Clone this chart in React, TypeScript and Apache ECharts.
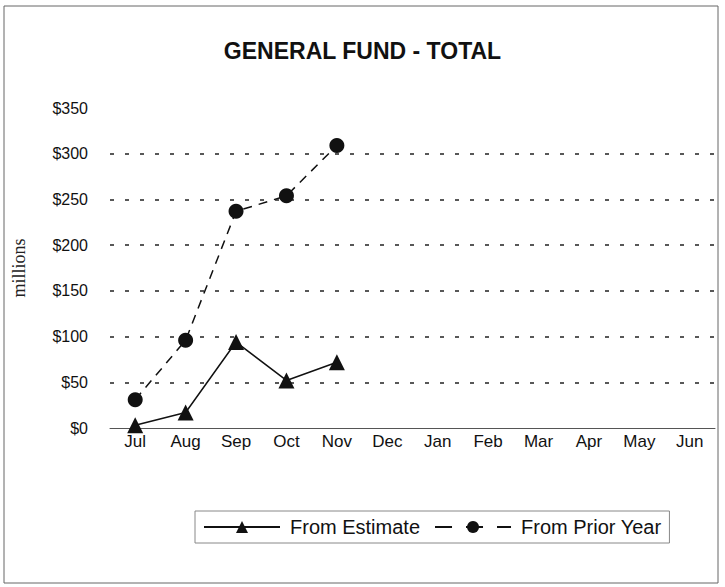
import React, { useEffect, useRef } from "react";
import * as echarts from "echarts";

const months = ["Jul", "Aug", "Sep", "Oct", "Nov", "Dec", "Jan", "Feb", "Mar", "Apr", "May", "Jun"];
const fromEstimate = [3, 17, 94, 52, 72];
const fromPriorYear = [31, 96, 237, 254, 309];
const gridValues = [50, 100, 150, 200, 250, 300];
const yMin = 0;
const yMax = 350;
const yStep = 50;

export default function App() {
  const ref = useRef<HTMLDivElement>(null);
  useEffect(() => {
    document.body.style.margin = "0";
    const chart = echarts.init(ref.current!, null, { renderer: "svg" });
    const font = "'Liberation Sans', Arial, sans-serif";
    chart.setOption({
      animation: false,
      backgroundColor: "#fff",
      title: {
        text: "GENERAL FUND - TOTAL",
        left: "center",
        top: 34,
        textStyle: { fontFamily: font, fontSize: 23, fontWeight: "bold", color: "#111" },
      },
      graphic: [
        {
          type: "rect",
          shape: { x: 4, y: 6, width: 714, height: 577 },
          style: { fill: "none", stroke: "#666", lineWidth: 1 },
          silent: true,
        },
      ],
      grid: { left: 110, right: 10, top: 108, bottom: 159, containLabel: false, outerBoundsMode: "none" },
      legend: {
        left: 195,
        top: 511,
        orient: "horizontal",
        itemWidth: 76,
        itemHeight: 15,
        itemGap: 14,
        padding: [6, 8, 6, 8],
        borderColor: "#888",
        borderWidth: 1,
        textStyle: { fontFamily: font, fontSize: 20, color: "#111", padding: [0, 0, 0, 5] },
        data: [
          { name: "From Estimate" },
          { name: "From Prior Year", lineStyle: { type: [17, 14] } },
        ],
      },
      xAxis: {
        type: "category",
        data: months,
        boundaryGap: true,
        axisLine: { show: true, lineStyle: { color: "#555", width: 1 } },
        axisTick: { show: false },
        axisLabel: { fontFamily: font, fontSize: 17, color: "#111", margin: 5 },
        splitLine: { show: false },
      },
      yAxis: {
        type: "value",
        min: yMin,
        max: yMax,
        interval: yStep,
        name: "millions",
        nameLocation: "middle",
        nameGap: 82,
        nameRotate: 90,
        nameTextStyle: { fontFamily: "'Liberation Serif', 'Times New Roman', serif", fontSize: 18, color: "#222" },
        axisLine: { show: false },
        axisTick: { show: false },
        splitLine: { show: false },
        axisLabel: {
          fontFamily: font,
          fontSize: 16,
          color: "#111",
          margin: 22,
          formatter: (v: number) => "$" + v,
        },
      },
      series: [
        {
          name: "From Estimate",
          type: "line",
          data: fromEstimate,
          symbol: "triangle",
          symbolSize: 16,
          lineStyle: { color: "#111", width: 1.5, type: "solid" },
          itemStyle: { color: "#111" },
          z: 3,
          markLine: {
            silent: true,
            symbol: "none",
            label: { show: false },
            lineStyle: { color: "#222", width: 1.5, type: [4, 11] },
            data: gridValues.map((v) => ({ yAxis: v })),
            z: 1,
          },
        },
        {
          name: "From Prior Year",
          type: "line",
          data: fromPriorYear,
          symbol: "circle",
          symbolSize: 15,
          lineStyle: { color: "#111", width: 1.5, type: [9, 7] },
          itemStyle: { color: "#111" },
          z: 3,
        },
      ],
    });
    return () => chart.dispose();
  }, []);
  return <div ref={ref} style={{ width: 725, height: 587 }} />;
}
